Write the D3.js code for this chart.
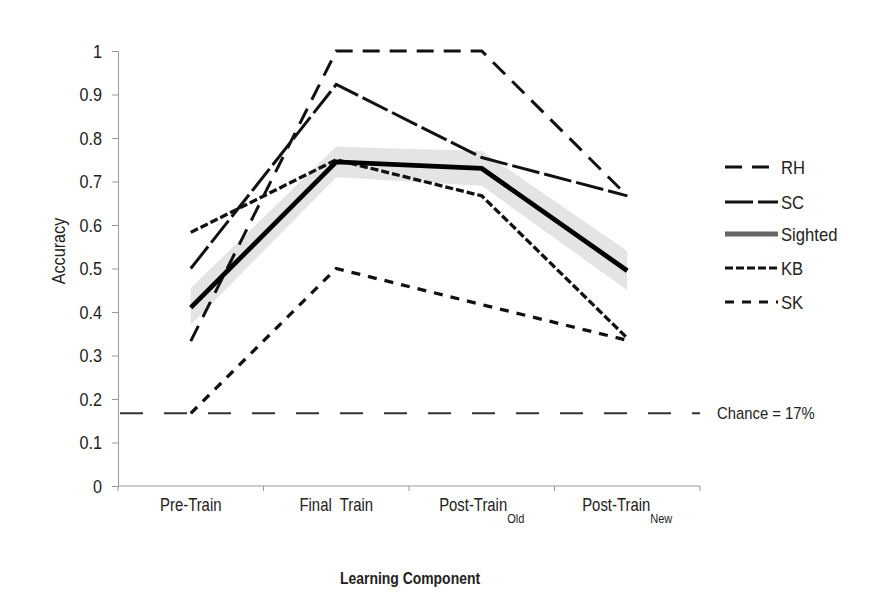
<!DOCTYPE html>
<html><head><meta charset="utf-8">
<script src="https://cdn.jsdelivr.net/npm/d3@7/dist/d3.min.js"></script>
<style>body{margin:0;background:#fff}svg{display:block}text{font-family:"Liberation Sans",Arial,sans-serif;fill:#222}</style>
</head><body>
<svg id="c" width="885" height="594"></svg>
<script>
const categories = ["Pre-Train", "Final  Train", "Post-Train", "Post-Train"];
const subscripts = ["", "", "Old", "New"];
const yTicks = [0, 0.1, 0.2, 0.3, 0.4, 0.5, 0.6, 0.7, 0.8, 0.9, 1];
const seriesNames = ["RH", "SC", "Sighted", "KB", "SK"];
const RH = [0.333, 1.0, 1.0, 0.667];
const SC = [0.5, 0.923, 0.755, 0.667];
const Sighted = [0.41, 0.745, 0.73, 0.495];
const SightedUpper = [0.455, 0.78, 0.77, 0.54];
const SightedLower = [0.37, 0.71, 0.69, 0.45];
const KB = [0.583, 0.75, 0.667, 0.34];
const SK = [0.167, 0.5, 0.417, 0.335];
const chance = 0.167;
const chanceLabel = "Chance = 17%";

const svg = d3.select("#c");
const keys = categories.map((c, i) => i);
const x = d3.scaleBand().domain(keys).range([118, 700]);
const cx = i => x(i) + x.bandwidth() / 2;
const y = d3.scaleLinear().domain([0, 1]).range([486, 51]);

// helper for condensed text
function ctext(parent, px, py, sx, size, anchor) {
  return parent.append("text")
    .attr("transform", `translate(${px},${py}) scale(${sx},1)`)
    .attr("text-anchor", anchor || "start").style("font-size", size + "px");
}

// y axis
const ya = svg.append("g").attr("transform", "translate(118,0)")
  .call(d3.axisLeft(y).tickValues(yTicks).tickSize(6)
    .tickFormat(d => String(+d.toFixed(1))));
ya.select(".domain").attr("stroke", "#999");
ya.selectAll(".tick line").attr("stroke", "#999");
ya.selectAll(".tick text").attr("x", 0).attr("dy", "0.35em")
  .attr("transform", "translate(-16,0) scale(0.9,1)")
  .style("font-size", "18px").attr("fill", "#222");

// x axis line + boundary ticks
svg.append("line").attr("x1", 118).attr("x2", 700).attr("y1", y(0)).attr("y2", y(0)).attr("stroke", "#999");
const bounds = keys.map(i => x(i)).concat([x(keys[keys.length - 1]) + x.bandwidth()]);
svg.selectAll(".xt").data(bounds).enter().append("line")
  .attr("x1", d => d).attr("x2", d => d).attr("y1", y(0)).attr("y2", y(0) + 5).attr("stroke", "#999");

// x labels
keys.forEach(i => {
  const t = ctext(svg, cx(i), 511, 0.85, 17.5, "middle").attr("xml:space", "preserve");
  t.append("tspan").text(categories[i]);
  if (subscripts[i]) t.append("tspan").attr("dy", 12).style("font-size", "13px").text(subscripts[i]);
});

// axis titles
svg.append("text").attr("transform", "translate(65,251) rotate(-90) scale(0.9,1)").attr("text-anchor", "middle")
  .style("font-size", "18px").text("Accuracy");
ctext(svg, 410, 584, 0.82, 17, "middle").style("font-weight", "bold").text("Learning Component");

// chance line
svg.append("line").attr("x1", 120).attr("x2", 700).attr("y1", y(chance)).attr("y2", y(chance))
  .attr("stroke", "#333").attr("stroke-width", 2).attr("stroke-dasharray", "23,21");
ctext(svg, 717, y(chance) + 6, 0.9, 16.5).text(chanceLabel);

// sighted band
const area = d3.area().x((d, i) => cx(i)).y0(d => y(d[0])).y1(d => y(d[1]));
svg.append("path").datum(SightedLower.map((v, i) => [v, SightedUpper[i]]))
  .attr("d", area).attr("fill", "#e4e4e4");

const line = d3.line().x((d, i) => cx(i)).y(d => y(d));
const styles = {
  RH: {w: 3, dash: "17,10", color: "#111"},
  SC: {w: 3, dash: "28,5", color: "#111"},
  Sighted: {w: 4.8, dash: null, color: "#000", legendColor: "#666"},
  KB: {w: 3.3, dash: "8,3", color: "#111"},
  SK: {w: 3.3, dash: "9,8", color: "#111"}
};
const data = {RH, SC, Sighted, KB, SK};
["SK", "KB", "RH", "SC", "Sighted"].forEach(k => {
  const s = styles[k];
  svg.append("path").datum(data[k]).attr("d", line).attr("fill", "none")
    .attr("stroke", s.color).attr("stroke-width", s.w)
    .attr("stroke-dasharray", s.dash).attr("stroke-linejoin", "miter");
});

// legend
const legY = [167, 202, 234, 268, 302];
seriesNames.forEach((k, i) => {
  const s = styles[k];
  svg.append("line").attr("x1", 725).attr("x2", 778).attr("y1", legY[i]).attr("y2", legY[i])
    .attr("stroke", s.legendColor || s.color).attr("stroke-width", k === "Sighted" ? 5 : 3)
    .attr("stroke-dasharray", s.dash);
  ctext(svg, 781, legY[i] + 6.5, 0.9, 18.5).text(k);
});
</script>
</body></html>
